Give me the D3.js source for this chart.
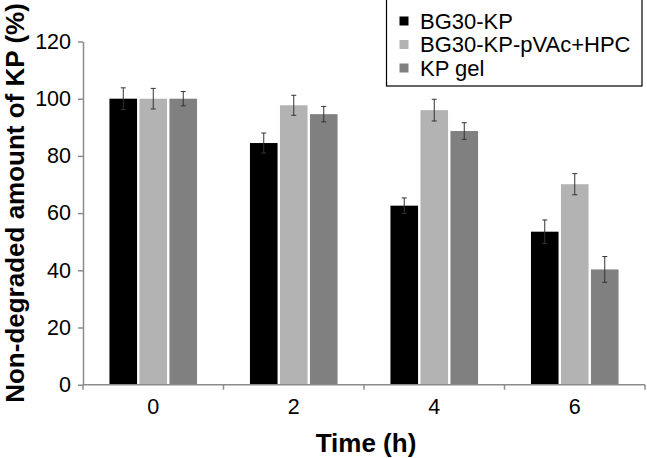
<!DOCTYPE html>
<html>
<head>
<meta charset="utf-8">
<script src="https://cdn.jsdelivr.net/npm/d3@7"></script>
<style>
  html, body { margin: 0; padding: 0; background: #fff; }
  svg { display: block; }
  text { font-family: "Liberation Sans", Arial, Helvetica, sans-serif; }
</style>
</head>
<body>
<svg id="chart" width="647" height="458"></svg>
<script>
const categories = ["0", "2", "4", "6"];
const seriesNames = ["BG30-KP", "BG30-KP-pVAc+HPC", "KP gel"];
const bg30kp = [100, 84.5, 62.6, 53.5];
const bg30kpPvac = [100, 97.7, 96.0, 70.1];
const kpGel = [100, 94.6, 88.7, 40.3];
const bg30kpErr = [3.8, 3.5, 2.7, 4.1];
const bg30kpPvacErr = [3.6, 3.5, 3.8, 3.7];
const kpGelErr = [2.5, 2.7, 2.9, 4.5];
const yTicks = [0, 20, 40, 60, 80, 100, 120];
const colors = ["#000000", "#b3b3b3", "#808080"];

(function () {
const values = [bg30kp, bg30kpPvac, kpGel];
const errors = [bg30kpErr, bg30kpPvacErr, kpGelErr];

const svg = d3.select("#chart");
const pLeft = 83, pRight = 645, pTop = 41.5, pBottom = 384.7;

const x = d3.scaleBand().domain(categories).range([pLeft, pRight]).padding(0);
const x1 = d3.scaleBand().domain(seriesNames).range([-45, 45]).padding(0);
const y = d3.scaleLinear().domain([0, 120]).range([pBottom, pTop]);

const axisColor = "#8c8c8c";

const data = [];
categories.forEach((c, i) => {
  seriesNames.forEach((s, j) => {
    data.push({ cat: c, series: s, v: values[j][i], e: errors[j][i], color: colors[j] });
  });
});
const bw = x1.bandwidth() * 0.92;
const g = svg.append("g");
g.selectAll("rect.bar").data(data).enter().append("rect")
  .attr("class", "bar")
  .attr("x", d => x(d.cat) + x.bandwidth() / 2 + x1(d.series) + (x1.bandwidth() - bw) / 2)
  .attr("width", bw)
  .attr("y", d => y(d.v))
  .attr("height", d => y(0) - y(d.v))
  .attr("fill", d => d.color);

const cx = d => x(d.cat) + x.bandwidth() / 2 + x1(d.series) + x1.bandwidth() / 2;
const eg = g.selectAll("g.err").data(data).enter().append("g").attr("class", "err")
  .attr("stroke", "#333").attr("stroke-width", 1);
eg.append("line").attr("x1", cx).attr("x2", cx).attr("y1", d => y(d.v + d.e)).attr("y2", d => y(d.v - d.e));
eg.append("line").attr("x1", d => cx(d) - 2.5).attr("x2", d => cx(d) + 2.5).attr("y1", d => y(d.v + d.e)).attr("y2", d => y(d.v + d.e));
eg.append("line").attr("x1", d => cx(d) - 2.5).attr("x2", d => cx(d) + 2.5).attr("y1", d => y(d.v - d.e)).attr("y2", d => y(d.v - d.e));

const yAxis = svg.append("g").attr("transform", `translate(${pLeft},0)`)
  .call(d3.axisLeft(y).tickValues(yTicks).tickSize(5).tickPadding(7).tickSizeOuter(0));
yAxis.select(".domain").attr("stroke", axisColor).attr("stroke-width", 1.5);
yAxis.selectAll(".tick line").attr("stroke", axisColor).attr("stroke-width", 1.5);
yAxis.selectAll(".tick text").attr("font-size", 21.5).attr("fill", "#000")
  .style("font-family", '"Liberation Sans", Arial, sans-serif');

const xAxis = svg.append("g").attr("transform", `translate(0,${pBottom})`)
  .call(d3.axisBottom(x).tickSize(0).tickPadding(14).tickSizeOuter(0));
xAxis.select(".domain").remove();
xAxis.selectAll(".tick text").attr("font-size", 21.5).attr("fill", "#000")
  .style("font-family", '"Liberation Sans", Arial, sans-serif');
svg.append("line").attr("x1", pLeft).attr("x2", pRight).attr("y1", pBottom).attr("y2", pBottom)
  .attr("stroke", axisColor).attr("stroke-width", 1.5);
const boundaries = categories.map(c => x(c)).concat([x(categories[categories.length - 1]) + x.bandwidth()]);
svg.selectAll("line.xb").data(boundaries).enter().append("line").attr("class", "xb")
  .attr("x1", d => d).attr("x2", d => d).attr("y1", pBottom).attr("y2", pBottom + 5)
  .attr("stroke", axisColor).attr("stroke-width", 1.5);

svg.append("text").attr("x", 366).attr("y", 452).attr("text-anchor", "middle")
  .attr("font-size", 26).attr("font-weight", "bold").text("Time (h)");
svg.append("text").attr("transform", "translate(24,203) rotate(-90)").attr("text-anchor", "middle")
  .attr("font-size", 26).attr("font-weight", "bold").text("Non-degraded amount of KP (%)");

const lg = svg.append("g");
lg.append("rect").attr("x", 386.5).attr("y", -1).attr("width", 255.5).attr("height", 87)
  .attr("fill", "#fff").attr("stroke", "#000").attr("stroke-width", 1.2);
const items = lg.selectAll("g.li").data(seriesNames).enter().append("g").attr("class", "li")
  .attr("transform", (d, i) => `translate(0,${i * 23.5})`);
items.append("rect").attr("x", 399.5).attr("y", 16.5).attr("width", 9).attr("height", 9)
  .attr("fill", (d, i) => colors[i]);
items.append("text").attr("x", 420).attr("y", 28.5).attr("font-size", 22).text(d => d);
})();
</script>
</body>
</html>
